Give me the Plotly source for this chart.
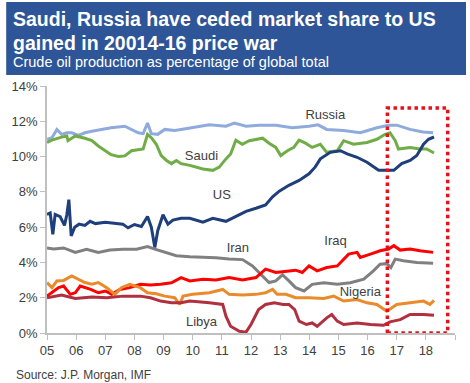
import plotly.graph_objects as go

# ---- data (decimal year, % of global crude production) ----
russia_t = [2005.0, 2005.17, 2005.34, 2005.5, 2005.68, 2005.85, 2006.08, 2006.3, 2006.54, 2006.88, 2007.2, 2007.67, 2007.9, 2008.13, 2008.3, 2008.45, 2008.58, 2008.8, 2009.04, 2009.38, 2009.6, 2010.0, 2010.57, 2011.14, 2011.43, 2011.83, 2012.28, 2012.85, 2013.42, 2013.99, 2014.3, 2014.6, 2015.18, 2015.75, 2016.32, 2016.72, 2017.0, 2017.46, 2017.9, 2018.25]
russia_v = [10.98, 11.07, 11.54, 11.26, 11.35, 11.35, 11.2, 11.35, 11.44, 11.54, 11.63, 11.72, 11.54, 11.35, 11.3, 11.9, 11.3, 11.26, 11.54, 11.48, 11.54, 11.63, 11.8, 11.72, 11.9, 11.72, 11.78, 11.78, 11.63, 11.72, 11.8, 11.54, 11.48, 11.35, 11.63, 11.78, 11.78, 11.54, 11.39, 11.35]

saudi_t = [2005.0, 2005.17, 2005.5, 2005.68, 2005.72, 2005.97, 2006.3, 2006.54, 2006.76, 2006.99, 2007.2, 2007.45, 2007.67, 2007.9, 2008.13, 2008.3, 2008.45, 2008.58, 2008.75, 2008.92, 2009.1, 2009.27, 2009.44, 2009.6, 2009.9, 2010.35, 2010.69, 2010.91, 2011.14, 2011.3, 2011.48, 2011.7, 2011.94, 2012.4, 2012.62, 2012.85, 2013.02, 2013.25, 2013.47, 2013.65, 2013.87, 2014.1, 2014.38, 2014.6, 2014.96, 2015.18, 2015.52, 2015.98, 2016.32, 2016.6, 2016.77, 2016.95, 2017.06, 2017.46, 2017.8, 2018.03, 2018.28]
saudi_v = [10.8, 10.93, 11.1, 11.17, 10.9, 11.17, 11.04, 10.9, 10.6, 10.33, 10.11, 10.0, 10.04, 10.33, 10.37, 10.43, 11.26, 11.07, 10.7, 10.06, 9.78, 9.6, 9.78, 9.6, 9.5, 9.3, 9.22, 9.4, 9.87, 10.15, 10.93, 10.7, 10.9, 11.04, 10.76, 10.52, 10.06, 10.33, 10.52, 10.93, 10.76, 10.52, 10.7, 10.24, 10.33, 10.9, 10.7, 10.8, 10.98, 11.26, 11.35, 10.9, 10.43, 10.52, 10.43, 10.43, 10.2]

us_t = [2005.0, 2005.11, 2005.2, 2005.28, 2005.45, 2005.6, 2005.68, 2005.75, 2005.83, 2005.95, 2006.1, 2006.3, 2006.48, 2006.66, 2007.0, 2007.33, 2007.6, 2007.78, 2008.0, 2008.24, 2008.45, 2008.58, 2008.7, 2008.8, 2008.98, 2009.15, 2009.32, 2009.6, 2009.9, 2010.35, 2010.69, 2011.14, 2011.48, 2011.83, 2012.17, 2012.5, 2012.74, 2012.97, 2013.3, 2013.65, 2013.99, 2014.2, 2014.38, 2014.72, 2015.07, 2015.3, 2015.64, 2015.98, 2016.38, 2016.66, 2016.9, 2017.17, 2017.46, 2017.69, 2017.92, 2018.09, 2018.28]
us_v = [6.72, 6.8, 5.6, 6.72, 6.6, 6.1, 6.7, 7.56, 5.5, 6.0, 6.17, 6.1, 6.33, 6.2, 6.28, 6.2, 6.17, 5.96, 6.15, 6.04, 6.6, 6.0, 4.85, 5.8, 6.7, 6.17, 6.4, 6.5, 6.5, 6.28, 6.5, 6.33, 6.61, 6.89, 7.07, 7.26, 7.72, 8.04, 8.37, 8.65, 9.02, 9.4, 9.87, 10.24, 10.33, 10.15, 9.96, 9.68, 9.22, 9.2, 9.22, 9.6, 9.78, 10.06, 10.7, 10.98, 11.11]

iran_t = [2005.0, 2005.23, 2005.57, 2005.97, 2006.36, 2006.76, 2007.16, 2007.6, 2008.07, 2008.45, 2008.7, 2009.04, 2009.44, 2009.9, 2010.35, 2010.8, 2011.25, 2011.71, 2012.05, 2012.4, 2012.62, 2012.85, 2013.08, 2013.3, 2013.53, 2013.82, 2014.1, 2014.5, 2014.96, 2015.41, 2015.87, 2016.2, 2016.43, 2016.66, 2016.8, 2016.95, 2017.23, 2017.69, 2018.25]
iran_v = [4.82, 4.76, 4.82, 4.57, 4.75, 4.57, 4.7, 4.75, 4.75, 4.9, 4.75, 4.57, 4.38, 4.32, 4.3, 4.26, 4.2, 4.16, 3.8, 3.24, 2.86, 2.95, 3.3, 2.95, 2.57, 2.38, 2.76, 2.85, 2.76, 2.85, 3.05, 3.52, 3.9, 3.93, 3.71, 4.19, 4.1, 4.0, 3.95]

iraq_t = [2005.0, 2005.17, 2005.4, 2005.57, 2005.8, 2005.97, 2006.14, 2006.5, 2006.76, 2007.0, 2007.22, 2007.5, 2007.84, 2008.2, 2008.55, 2008.9, 2009.27, 2009.6, 2009.9, 2010.35, 2010.8, 2011.25, 2011.71, 2012.17, 2012.5, 2012.85, 2013.2, 2013.53, 2013.76, 2013.99, 2014.27, 2014.6, 2014.96, 2015.18, 2015.35, 2015.64, 2015.75, 2016.1, 2016.43, 2016.72, 2016.9, 2017.12, 2017.46, 2017.8, 2018.25]
iraq_v = [2.09, 2.28, 2.57, 2.66, 2.19, 2.28, 2.66, 2.47, 2.28, 2.38, 2.2, 2.47, 2.57, 2.76, 2.72, 2.76, 2.85, 3.14, 2.95, 3.05, 3.0, 3.14, 3.0, 3.14, 3.62, 3.43, 3.49, 3.56, 3.43, 3.8, 3.52, 3.71, 3.8, 4.19, 4.47, 4.57, 4.28, 4.47, 4.66, 4.76, 4.95, 4.7, 4.76, 4.66, 4.57]

nigeria_t = [2005.0, 2005.17, 2005.34, 2005.57, 2005.85, 2006.08, 2006.3, 2006.54, 2006.76, 2007.05, 2007.33, 2007.55, 2007.84, 2008.2, 2008.45, 2008.75, 2009.04, 2009.38, 2009.55, 2009.67, 2010.0, 2010.57, 2011.03, 2011.25, 2011.71, 2012.17, 2012.5, 2012.74, 2012.9, 2013.2, 2013.53, 2013.99, 2014.5, 2014.84, 2015.18, 2015.64, 2015.98, 2016.32, 2016.66, 2017.0, 2017.46, 2017.92, 2018.14, 2018.28]
nigeria_v = [2.86, 2.57, 2.95, 2.98, 3.24, 3.05, 2.86, 2.76, 2.86, 2.57, 2.19, 2.57, 2.76, 2.57, 2.28, 2.22, 2.09, 2.0, 1.62, 2.09, 2.19, 2.28, 2.47, 2.19, 2.16, 2.19, 2.28, 2.47, 2.19, 2.19, 2.0, 2.0, 1.96, 2.09, 1.81, 1.9, 1.71, 1.62, 1.24, 1.62, 1.71, 1.81, 1.62, 1.85]

libya_t = [2005.0, 2005.5, 2005.97, 2006.54, 2007.05, 2007.6, 2008.2, 2008.55, 2008.9, 2009.27, 2009.6, 2009.9, 2010.57, 2011.03, 2011.14, 2011.3, 2011.6, 2011.83, 2012.0, 2012.26, 2012.5, 2012.8, 2013.1, 2013.3, 2013.5, 2013.65, 2013.9, 2014.1, 2014.27, 2014.6, 2014.77, 2014.96, 2015.18, 2015.64, 2016.1, 2016.55, 2016.77, 2017.12, 2017.46, 2017.92, 2018.28]
libya_v = [2.0, 2.15, 1.96, 2.04, 2.0, 2.09, 2.09, 2.0, 1.81, 1.71, 1.71, 1.81, 1.71, 1.62, 0.95, 0.38, 0.1, 0.05, 0.48, 1.33, 1.62, 1.71, 1.62, 1.62, 1.33, 0.67, 0.48, 0.57, 0.38, 0.86, 1.05, 0.67, 0.48, 0.57, 0.48, 0.44, 0.63, 0.76, 1.05, 1.05, 1.0]

series = [
    ("Russia", russia_t, russia_v, "#8FAADC"),
    ("Saudi", saudi_t, saudi_v, "#70AD47"),
    ("US", us_t, us_v, "#1F3E7C"),
    ("Iran", iran_t, iran_v, "#808080"),
    ("Iraq", iraq_t, iraq_v, "#FF0000"),
    ("Nigeria", nigeria_t, nigeria_v, "#E98A2B"),
    ("Libya", libya_t, libya_v, "#B0303F"),
]

label_names = ["Russia", "Saudi", "US", "Iran", "Iraq", "Nigeria", "Libya"]
label_x = [2014.55, 2010.3, 2011.0, 2011.55, 2014.9, 2015.75, 2010.3]
label_y = [12.3, 10.0, 7.8, 4.8, 5.2, 2.3, 0.6]

year_ticks = list(range(2005, 2020))
year_labels = ["05", "06", "07", "08", "09", "10", "11", "12", "13", "14", "15", "16", "17", "18", ""]
y_ticks = [0, 2, 4, 6, 8, 10, 12, 14]
y_labels = ["0%", "2%", "4%", "6%", "8%", "10%", "12%", "14%"]

box_x = [2016.68, 2018.75]
box_y = [0, 12.75]

title1 = "Saudi, Russia have ceded market share to US"
title2 = "gained in 20014-16 price war"
subtitle = "Crude oil production as percentage of global total"
source = "Source: J.P. Morgan, IMF"

FONT = "Liberation Sans, Arial, sans-serif"

fig = go.Figure()
for name, t, v, c in series:
    fig.add_trace(go.Scatter(x=t, y=v, mode="lines", name=name,
                             line=dict(color=c, width=3), showlegend=False))

fig.add_trace(go.Scatter(x=label_x, y=label_y, mode="text", text=label_names,
                         textfont=dict(family=FONT, size=13, color="#404040"),
                         showlegend=False))

# dotted highlight box
fig.add_shape(type="rect", xref="x", yref="y", x0=box_x[0], x1=box_x[1],
              y0=box_y[0], y1=box_y[1],
              line=dict(color="#E8101A", width=3.5, dash="dot"))

# title block
fig.add_shape(type="rect", xref="paper", yref="paper", x0=-0.1, x1=1.027,
              y0=1.0445, y1=1.34, fillcolor="#2E5597", line=dict(width=0),
              layer="below")

fig.add_annotation(xref="paper", yref="paper", x=-0.088, y=1.272, xanchor="left",
                   yanchor="middle", text="<b>" + title1 + "</b>", showarrow=False,
                   font=dict(family=FONT, size=19.5, color="white"))
fig.add_annotation(xref="paper", yref="paper", x=-0.088, y=1.175, xanchor="left",
                   yanchor="middle", text="<b>" + title2 + "</b>", showarrow=False,
                   font=dict(family=FONT, size=19.5, color="white"))
fig.add_annotation(xref="paper", yref="paper", x=-0.088, y=1.098, xanchor="left",
                   yanchor="middle", text=subtitle, showarrow=False,
                   font=dict(family=FONT, size=14.5, color="white"))
fig.add_annotation(xref="paper", yref="paper", x=-0.08, y=-0.17, xanchor="left",
                   yanchor="middle", text=source, showarrow=False,
                   font=dict(family=FONT, size=12, color="#404040"))

fig.update_layout(
    width=470, height=383,
    margin=dict(l=45, r=15, t=86, b=50),
    paper_bgcolor="white", plot_bgcolor="white",
    font=dict(family=FONT, size=13, color="#404040"),
    xaxis=dict(range=[2005, 2019], tickvals=year_ticks, ticktext=year_labels,
               showgrid=False, zeroline=False, showline=True, linecolor="#BFBFBF",
               linewidth=1.5, ticks="outside", ticklen=5, tickcolor="#BFBFBF",
               tickfont=dict(family=FONT, size=13, color="#404040")),
    yaxis=dict(range=[0, 14], tickvals=y_ticks, ticktext=y_labels,
               showgrid=False, zeroline=False, showline=True, linecolor="#BFBFBF",
               linewidth=1.5, ticks="outside", ticklen=5, tickcolor="#BFBFBF",
               tickfont=dict(family=FONT, size=13, color="#404040")),
)

fig.write_html("out.html", config={"displayModeBar": False},
               post_script="document.body.style.margin='0';document.body.style.overflow='hidden';")
